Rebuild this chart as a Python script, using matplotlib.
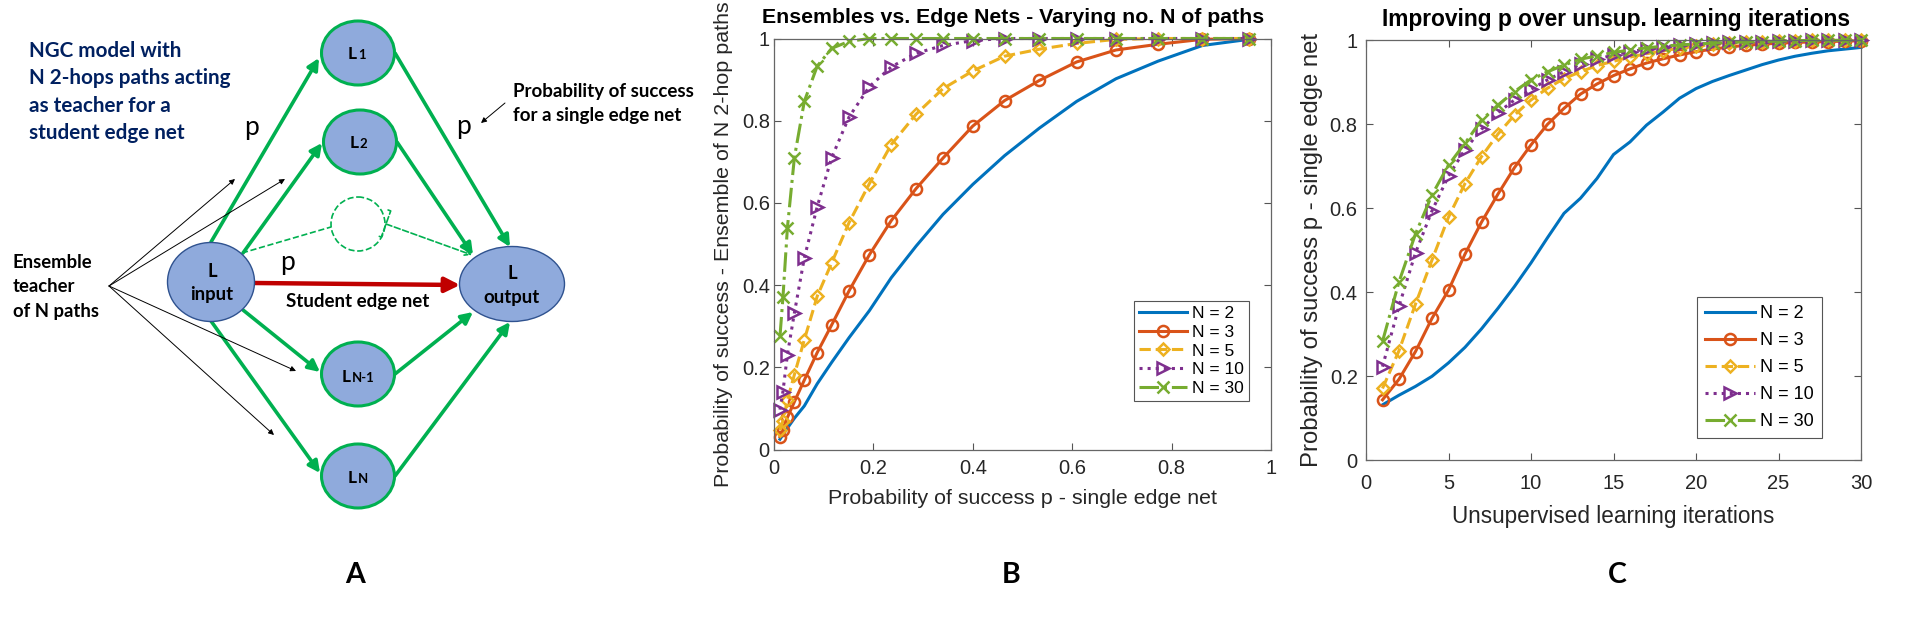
import numpy as np
import matplotlib
matplotlib.use('Agg')
import matplotlib.pyplot as plt
from matplotlib.patches import Ellipse, Circle

plt.rcParams['font.family'] = ['Liberation Sans', 'DejaVu Sans']

# ---- data ----
# panel B: x = probability of success of a single edge net
p_single = [0.012, 0.018, 0.027, 0.041, 0.061, 0.087, 0.116, 0.151, 0.192, 0.236,
            0.286, 0.340, 0.400, 0.464, 0.534, 0.609, 0.688, 0.773, 0.862, 0.956]
ens_n2 = [0.025, 0.036, 0.052, 0.076, 0.106, 0.160, 0.212, 0.272, 0.338, 0.418,
          0.495, 0.572, 0.645, 0.715, 0.782, 0.847, 0.902, 0.945, 0.983, 0.998]
ens_n3 = [0.031, 0.048, 0.078, 0.116, 0.169, 0.236, 0.303, 0.386, 0.474, 0.557,
          0.635, 0.709, 0.787, 0.849, 0.898, 0.943, 0.972, 0.986, 0.998, 1.0]
ens_n5 = [0.047, 0.070, 0.120, 0.182, 0.267, 0.373, 0.454, 0.552, 0.647, 0.742,
          0.816, 0.878, 0.921, 0.957, 0.974, 0.988, 0.998, 1.0, 1.0, 1.0]
ens_n10 = [0.097, 0.141, 0.231, 0.332, 0.466, 0.591, 0.710, 0.809, 0.883, 0.931,
           0.964, 0.983, 0.995, 1.0, 1.0, 1.0, 1.0, 1.0, 1.0, 1.0]
ens_n30 = [0.275, 0.370, 0.540, 0.710, 0.847, 0.933, 0.976, 0.993, 1.0, 1.0,
           1.0, 1.0, 1.0, 1.0, 1.0, 1.0, 1.0, 1.0, 1.0, 1.0]

# panel C: p of the single edge net after each unsupervised iteration
iters = list(range(1, 31))
imp_n2 = [0.132, 0.155, 0.176, 0.200, 0.232, 0.269, 0.313, 0.362, 0.414, 0.470,
          0.530, 0.588, 0.624, 0.671, 0.728, 0.758, 0.798, 0.829, 0.862, 0.885,
          0.902, 0.916, 0.929, 0.942, 0.953, 0.962, 0.969, 0.975, 0.979, 0.983]
imp_n3 = [0.144, 0.193, 0.259, 0.338, 0.405, 0.491, 0.567, 0.634, 0.697, 0.751,
          0.800, 0.838, 0.872, 0.896, 0.916, 0.932, 0.946, 0.956, 0.965, 0.973,
          0.979, 0.984, 0.988, 0.991, 0.993, 0.995, 0.996, 0.997, 0.998, 0.999]
imp_n5 = [0.171, 0.261, 0.372, 0.477, 0.579, 0.659, 0.723, 0.777, 0.822, 0.858,
          0.886, 0.909, 0.925, 0.940, 0.950, 0.960, 0.968, 0.975, 0.981, 0.986,
          0.990, 0.993, 0.995, 0.997, 0.998, 0.999, 1.0, 1.0, 1.0, 1.0]
imp_n10 = [0.223, 0.367, 0.494, 0.594, 0.677, 0.740, 0.788, 0.828, 0.858, 0.883,
           0.906, 0.925, 0.943, 0.955, 0.965, 0.973, 0.979, 0.984, 0.988, 0.991,
           0.993, 0.995, 0.996, 0.997, 0.998, 0.999, 1.0, 1.0, 1.0, 1.0]
imp_n30 = [0.283, 0.425, 0.539, 0.632, 0.703, 0.755, 0.810, 0.846, 0.878, 0.906,
           0.925, 0.941, 0.955, 0.963, 0.971, 0.977, 0.982, 0.986, 0.989, 0.991,
           0.993, 0.995, 0.996, 0.997, 0.998, 0.999, 1.0, 1.0, 1.0, 1.0]

labels = ['N = 2', 'N = 3', 'N = 5', 'N = 10', 'N = 30']
ticks01 = [0, 0.2, 0.4, 0.6, 0.8, 1]
tick01_labels = ['0', '0.2', '0.4', '0.6', '0.8', '1']
iter_ticks = [0, 5, 10, 15, 20, 25, 30]

# MATLAB default colours and line styles
colors = ['#0072BD', '#D95319', '#EDB120', '#7E2F8E', '#77AC30']
styles = ['-', '-', '--', ':', '-.']
markers = ['', 'o', 'D', '>', 'x']
msizes = [0, 8, 6.5, 9, 8]

W, H = 1922, 617
fig = plt.figure(figsize=(W / 100, H / 100), dpi=100)
renderer = fig.canvas.get_renderer()


def fit(texts, target):
    # scale a group of texts so the widest one spans `target` pixels
    ext = max(max(t.get_window_extent(renderer).width, t.get_window_extent(renderer).height)
              if t.get_rotation() else t.get_window_extent(renderer).width for t in texts)
    for t in texts:
        t.set_fontsize(t.get_fontsize() * target / ext)


# ================= panel A : diagram (pixel coordinates) =================
axA = fig.add_axes([0, 0, 600 / W, 1])
axA.set_xlim(0, 600)
axA.set_ylim(H, 0)
axA.axis('off')

green = '#00B050'
fill = '#8FAADC'
afont = ['Lato', 'DejaVu Sans']


def arrow(x0, y0, x1, y1, color, lw, ms, style='-|>', ls='-'):
    axA.annotate('', xy=(x1, y1), xytext=(x0, y0),
                 arrowprops=dict(arrowstyle=style, color=color, lw=lw,
                                 mutation_scale=ms, shrinkA=0, shrinkB=0,
                                 linestyle=ls))


# green 2-hop paths
arrow(211, 242, 319, 58, green, 2.6, 17)
arrow(243, 253, 322, 143, green, 2.6, 17)
arrow(243, 310, 320, 372, green, 2.6, 17)
arrow(211, 321, 320, 473, green, 2.6, 17)
arrow(395, 53, 510, 247, green, 2.6, 17)
arrow(397, 142, 473, 255, green, 2.6, 17)
arrow(395, 374, 473, 312, green, 2.6, 17)
arrow(395, 476, 510, 322, green, 2.6, 17)

# dashed hidden node
axA.add_patch(Circle((358, 224), 27, fill=False, ec=green, lw=1.2, ls='--'))
axA.plot([242, 331], [253, 227], '--', color=green, lw=1.2)
arrow(386, 224, 472, 255, green, 1.2, 10, style=']->', ls='--')

# student edge net
arrow(255, 283, 460, 285, '#C00000', 3.2, 22)

# ensemble teacher pointers
for tx, ty in [(235, 179), (285, 179), (296, 371), (274, 435)]:
    arrow(109, 286, tx, ty, 'black', 0.7, 8)
arrow(505, 103, 481, 123, 'black', 0.7, 8)

# nodes
for cx, cy in [(358, 53), (360, 142), (358, 374), (358, 476)]:
    axA.add_patch(Ellipse((cx, cy), 73, 64, fc=fill, ec=green, lw=2.2, zorder=3))
axA.add_patch(Ellipse((211, 282), 87, 79, fc=fill, ec='#2F528F', lw=1, zorder=3))
axA.add_patch(Ellipse((512, 284), 105, 75, fc=fill, ec='#2F528F', lw=1, zorder=3))

# node labels: big "L" plus small index
for sx, by, sub in [(357, 59, '1'), (358.5, 148, '2'), (350.5, 382, 'N-1'), (356.5, 483, 'N')]:
    axA.text(sx, by, 'L', ha='right', va='baseline', fontsize=12.5, fontweight='bold',
             family=afont, zorder=4)
    axA.text(sx + 1, by, sub, ha='left', va='baseline', fontsize=9.5, fontweight='bold',
             family=afont, zorder=4)
t_in = [axA.text(212, 277, 'L', ha='center', va='baseline', fontsize=13, fontweight='bold',
                 family=afont, zorder=4),
        axA.text(212, 300, 'input', ha='center', va='baseline', fontsize=13, fontweight='bold',
                 family=afont, zorder=4)]
fit(t_in, 43)
t_out = [axA.text(512, 279, 'L', ha='center', va='baseline', fontsize=13, fontweight='bold',
                  family=afont, zorder=4),
         axA.text(512, 303, 'output', ha='center', va='baseline', fontsize=13, fontweight='bold',
                  family=afont, zorder=4)]
fit(t_out, 56)

# annotations
navy_lines = ['NGC model with', 'N 2-hops paths acting', 'as teacher for a', 'student edge net']
t_navy = [axA.text(29, 57 + i * 27.3, line, ha='left', va='baseline', fontsize=14,
                   fontweight='bold', color='#002060', family=afont)
          for i, line in enumerate(navy_lines)]
fit(t_navy, 203)
t_ens = [axA.text(13, 268 + i * 24.3, line, ha='left', va='baseline', fontsize=12.5,
                  fontweight='bold', color='black', family=afont)
         for i, line in enumerate(['Ensemble', 'teacher', 'of N paths'])]
fit(t_ens, 86)
t_prob = [axA.text(513, 97 + i * 24, line, ha='left', va='baseline', fontsize=11.5,
                   fontweight='bold', color='black', family=afont)
          for i, line in enumerate(['Probability of success', 'for a single edge net'])]
fit(t_prob, 181)
t_st = axA.text(358, 307, 'Student edge net', ha='center', va='baseline', fontsize=12.5,
                fontweight='bold', family=afont)
fit([t_st], 144)
for px, py in [(252, 135), (463, 134), (287, 270)]:
    axA.text(px, py, 'p', ha='center', va='baseline', fontsize=19, family=afont)


# ================= panels B and C =================
def style_axes(ax, tsize, xpad, ypad):
    ax.tick_params(direction='in', top=True, right=True, length=5, width=0.8,
                   labelsize=tsize, labelcolor='#262626', color='#555555')
    ax.tick_params(axis='x', pad=xpad)
    ax.tick_params(axis='y', pad=ypad)
    for s in ax.spines.values():
        s.set_color('#666666')
        s.set_linewidth(0.9)


axB = fig.add_axes([774 / W, (H - 449.5) / H, 497 / W, 411 / H])
seriesB = [ens_n2, ens_n3, ens_n5, ens_n10, ens_n30]
for yv, c, ls, m, ms, lab in zip(seriesB, colors, styles, markers, msizes, labels):
    axB.plot(p_single, yv, color=c, ls=ls, lw=2.2, marker=m or None, ms=ms,
             mfc='none', mew=1.8, label=lab, clip_on=False)
axB.set_xlim(0, 1)
axB.set_ylim(0, 1)
axB.set_xticks(ticks01, tick01_labels)
axB.set_yticks(ticks01, tick01_labels)
style_axes(axB, 14.5, 7, 3)
xlB = axB.set_xlabel('Probability of success p - single edge net', fontsize=15.4,
                     color='#262626', va='center')
axB.xaxis.set_label_coords(0.5, -49.5 / 411)
ylB = axB.set_ylabel('Probability of success - Ensemble of N 2-hop paths', fontsize=15.4,
                     color='#262626', va='center')
axB.yaxis.set_label_coords(-50.5 / 497, 0.5)
fit([xlB], 388)
fit([ylB], 486)
legB = axB.legend(loc='lower right', bbox_to_anchor=(0.956, 0.118), fontsize=12.5,
                  frameon=True, fancybox=False, framealpha=1, edgecolor='#555555',
                  handlelength=2.75, handletextpad=0.28, labelspacing=0.2,
                  borderpad=0.3, borderaxespad=0)
legB.get_frame().set_linewidth(0.8)
tB = fig.text(1013 / W, 1 - 17.7 / H, 'Ensembles vs. Edge Nets - Varying no. N of paths',
              ha='center', va='center', fontsize=15.4, fontweight='bold')
fit([tB], 503)

axC = fig.add_axes([1366 / W, (H - 460.3) / H, 495 / W, 420 / H])
seriesC = [imp_n2, imp_n3, imp_n5, imp_n10, imp_n30]
for yv, c, ls, m, ms, lab in zip(seriesC, colors, styles, markers, msizes, labels):
    axC.plot(iters, yv, color=c, ls=ls, lw=2.2, marker=m or None, ms=ms,
             mfc='none', mew=1.8, label=lab, clip_on=False)
axC.set_xlim(0, 30)
axC.set_ylim(0, 1)
axC.set_xticks(iter_ticks)
axC.set_yticks(ticks01, tick01_labels)
style_axes(axC, 14.5, 10, 6)
xlC = axC.set_xlabel('Unsupervised learning iterations', fontsize=16.3, color='#262626',
                     va='center')
axC.xaxis.set_label_coords(0.5, -55.7 / 420)
ylC = axC.set_ylabel('Probability of success p - single edge net', fontsize=16.5,
                     color='#262626', va='center')
axC.yaxis.set_label_coords(-54 / 495, 0.5)
fit([xlC], 322)
fit([ylC], 435)
legC = axC.legend(loc='lower right', bbox_to_anchor=(0.921, 0.053), fontsize=13,
                  frameon=True, fancybox=False, framealpha=1, edgecolor='#555555',
                  handlelength=2.75, handletextpad=0.3, labelspacing=0.55,
                  borderpad=0.45, borderaxespad=0)
legC.get_frame().set_linewidth(0.8)
tC = fig.text(1616 / W, 1 - 19.7 / H, 'Improving p over unsup. learning iterations',
              ha='center', va='center', fontsize=16.3, fontweight='bold')
fit([tC], 467)

# panel letters
for lx, letter in [(355.5, 'A'), (1011, 'B'), (1617.5, 'C')]:
    fig.text(lx / W, 1 - 582.7 / H, letter, ha='center', va='baseline',
             fontsize=20.5, fontweight='bold', family=afont)

fig.savefig('out.png', dpi=100, facecolor='white')
